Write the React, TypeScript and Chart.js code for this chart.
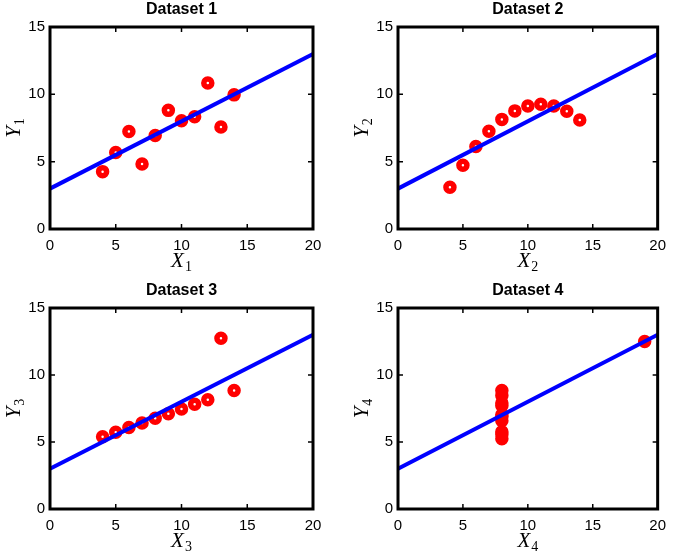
import React, { useEffect, useRef } from "react";
import { Chart, registerables } from "chart.js";

Chart.register(...registerables);

// Anscombe's quartet
const xShared = [10, 8, 13, 9, 11, 14, 6, 4, 12, 7, 5];
const y1 = [8.04, 6.95, 7.58, 8.81, 8.33, 9.96, 7.24, 4.26, 10.84, 4.82, 5.68];
const y2 = [9.14, 8.14, 8.74, 8.77, 9.26, 8.1, 6.13, 3.1, 9.13, 7.26, 4.74];
const y3 = [7.46, 6.77, 12.74, 7.11, 7.81, 8.84, 6.08, 5.39, 8.15, 6.42, 5.73];
const x4 = [8, 8, 8, 8, 8, 8, 8, 19, 8, 8, 8];
const y4 = [6.58, 5.76, 7.71, 8.84, 8.47, 7.04, 5.25, 12.5, 5.56, 7.91, 6.89];

// least-squares fit shared by all four sets
const fitX = [0, 20];
const fitY = [3, 13];

const xTicks = [0, 5, 10, 15, 20];
const yTicks = [0, 5, 10, 15];
const titles = ["Dataset 1", "Dataset 2", "Dataset 3", "Dataset 4"];
const subscripts = ["1", "2", "3", "4"];

const W = 674;
const H = 552;
const Y_AXIS_W = 50;
const X_AXIS_H = 30;

type Panel = {
  title: string;
  sub: string;
  xs: number[];
  ys: number[];
  filled: boolean;
  box: { l: number; t: number; r: number; b: number };
};

const panels: Panel[] = [
  { title: titles[0], sub: subscripts[0], xs: xShared, ys: y1, filled: false, box: { l: 50, t: 27, r: 313, b: 229 } },
  { title: titles[1], sub: subscripts[1], xs: xShared, ys: y2, filled: false, box: { l: 398, t: 27, r: 661, b: 229 } },
  { title: titles[2], sub: subscripts[2], xs: xShared, ys: y3, filled: false, box: { l: 50, t: 308, r: 313, b: 509 } },
  { title: titles[3], sub: subscripts[3], xs: x4, ys: y4, filled: true, box: { l: 398, t: 308, r: 661, b: 509 } },
];

function drawSymbol(ctx: CanvasRenderingContext2D, letter: string, sub: string, cx: number, baseline: number) {
  const big = "italic 21px 'Liberation Serif'";
  const small = "14px 'Liberation Serif'";
  ctx.font = big;
  const w1 = ctx.measureText(letter).width;
  ctx.font = small;
  const w2 = ctx.measureText(sub).width;
  const total = w1 + 1 + w2;
  const x0 = cx - total / 2;
  ctx.textAlign = "left";
  ctx.textBaseline = "alphabetic";
  ctx.font = big;
  ctx.fillText(letter, x0, baseline);
  ctx.font = small;
  ctx.fillText(sub, x0 + w1 + 1, baseline + 4);
}

function makeDecor(panel: Panel) {
  return {
    id: "panelDecor",
    afterDatasetsDraw(chart: any) {
      const ctx: CanvasRenderingContext2D = chart.ctx;
      const { left, right, top, bottom } = chart.chartArea;
      const xs = chart.scales.x;
      const ys = chart.scales.y;
      ctx.save();
      ctx.strokeStyle = "#000";
      // inward tick marks on all four sides
      ctx.lineWidth = 1.5;
      const tl = 5;
      ctx.beginPath();
      xTicks.forEach((v) => {
        const px = xs.getPixelForValue(v);
        ctx.moveTo(px, bottom);
        ctx.lineTo(px, bottom - tl);
        ctx.moveTo(px, top);
        ctx.lineTo(px, top + tl);
      });
      yTicks.forEach((v) => {
        const py = ys.getPixelForValue(v);
        ctx.moveTo(left, py);
        ctx.lineTo(left + tl, py);
        ctx.moveTo(right, py);
        ctx.lineTo(right - tl, py);
      });
      ctx.stroke();
      // axes box
      ctx.lineWidth = 3;
      ctx.strokeRect(left, top, right - left, bottom - top);

      ctx.fillStyle = "#000";
      // panel title
      ctx.font = "bold 16px 'Liberation Sans'";
      ctx.textAlign = "center";
      ctx.textBaseline = "alphabetic";
      ctx.fillText(panel.title, (left + right) / 2, top - 13);
      // x label
      drawSymbol(ctx, "X", panel.sub, (left + right) / 2, bottom + 38);
      // y label
      ctx.translate(left - 30, (top + bottom) / 2);
      ctx.rotate(-Math.PI / 2);
      drawSymbol(ctx, "Y", panel.sub, 0, 0);
      ctx.restore();
    },
  };
}

function PanelChart({ panel }: { panel: Panel }) {
  const ref = useRef<HTMLCanvasElement>(null);
  useEffect(() => {
    if (!ref.current) return;
    const b = panel.box;
    const chart = new Chart(ref.current, {
      type: "scatter",
      data: {
        datasets: [
          {
            type: "line",
            data: fitX.map((x, i) => ({ x, y: fitY[i] })),
            borderColor: "#0000ff",
            borderWidth: 4,
            pointRadius: 0,
            fill: false,
          } as any,
          {
            data: panel.xs.map((x, i) => ({ x, y: panel.ys[i] })),
            pointRadius: 4,
            borderWidth: 5.5,
            borderColor: "#ff0000",
            backgroundColor: panel.filled ? "#ff0000" : "#ffffff",
            pointHoverRadius: 4,
          },
        ],
      },
      options: {
        responsive: false,
        animation: false,
        devicePixelRatio: 1,
        layout: {
          padding: {
            left: b.l - Y_AXIS_W,
            top: b.t,
            right: W - b.r,
            bottom: H - b.b - X_AXIS_H,
          },
        },
        plugins: {
          legend: { display: false },
          tooltip: { enabled: false },
          title: { display: false },
        },
        scales: {
          x: {
            type: "linear",
            min: 0,
            max: 20,
            afterBuildTicks: (s: any) => {
              s.ticks = xTicks.map((v) => ({ value: v }));
            },
            afterFit: (s: any) => {
              s.height = X_AXIS_H;
            },
            grid: { display: false, drawTicks: false },
            border: { display: false },
            ticks: {
              padding: 8,
              color: "#000",
              font: { family: "'Liberation Sans'", size: 15 },
              maxRotation: 0,
            },
          },
          y: {
            type: "linear",
            min: 0,
            max: 15,
            afterBuildTicks: (s: any) => {
              s.ticks = yTicks.map((v) => ({ value: v }));
            },
            afterFit: (s: any) => {
              s.width = Y_AXIS_W;
            },
            grid: { display: false, drawTicks: false },
            border: { display: false },
            ticks: {
              padding: 5,
              color: "#000",
              font: { family: "'Liberation Sans'", size: 15 },
            },
          },
        },
      },
      plugins: [makeDecor(panel)],
    });
    return () => chart.destroy();
  }, [panel]);
  return (
    <canvas
      ref={ref}
      width={W}
      height={H}
      style={{ position: "absolute", left: 0, top: 0, width: W, height: H }}
    />
  );
}

export default function App() {
  return (
    <div
      style={{
        position: "absolute",
        left: 0,
        top: 0,
        width: W,
        height: H,
        overflow: "hidden",
        background: "#fff",
      }}
    >
      {panels.map((p) => (
        <PanelChart key={p.title} panel={p} />
      ))}
    </div>
  );
}
